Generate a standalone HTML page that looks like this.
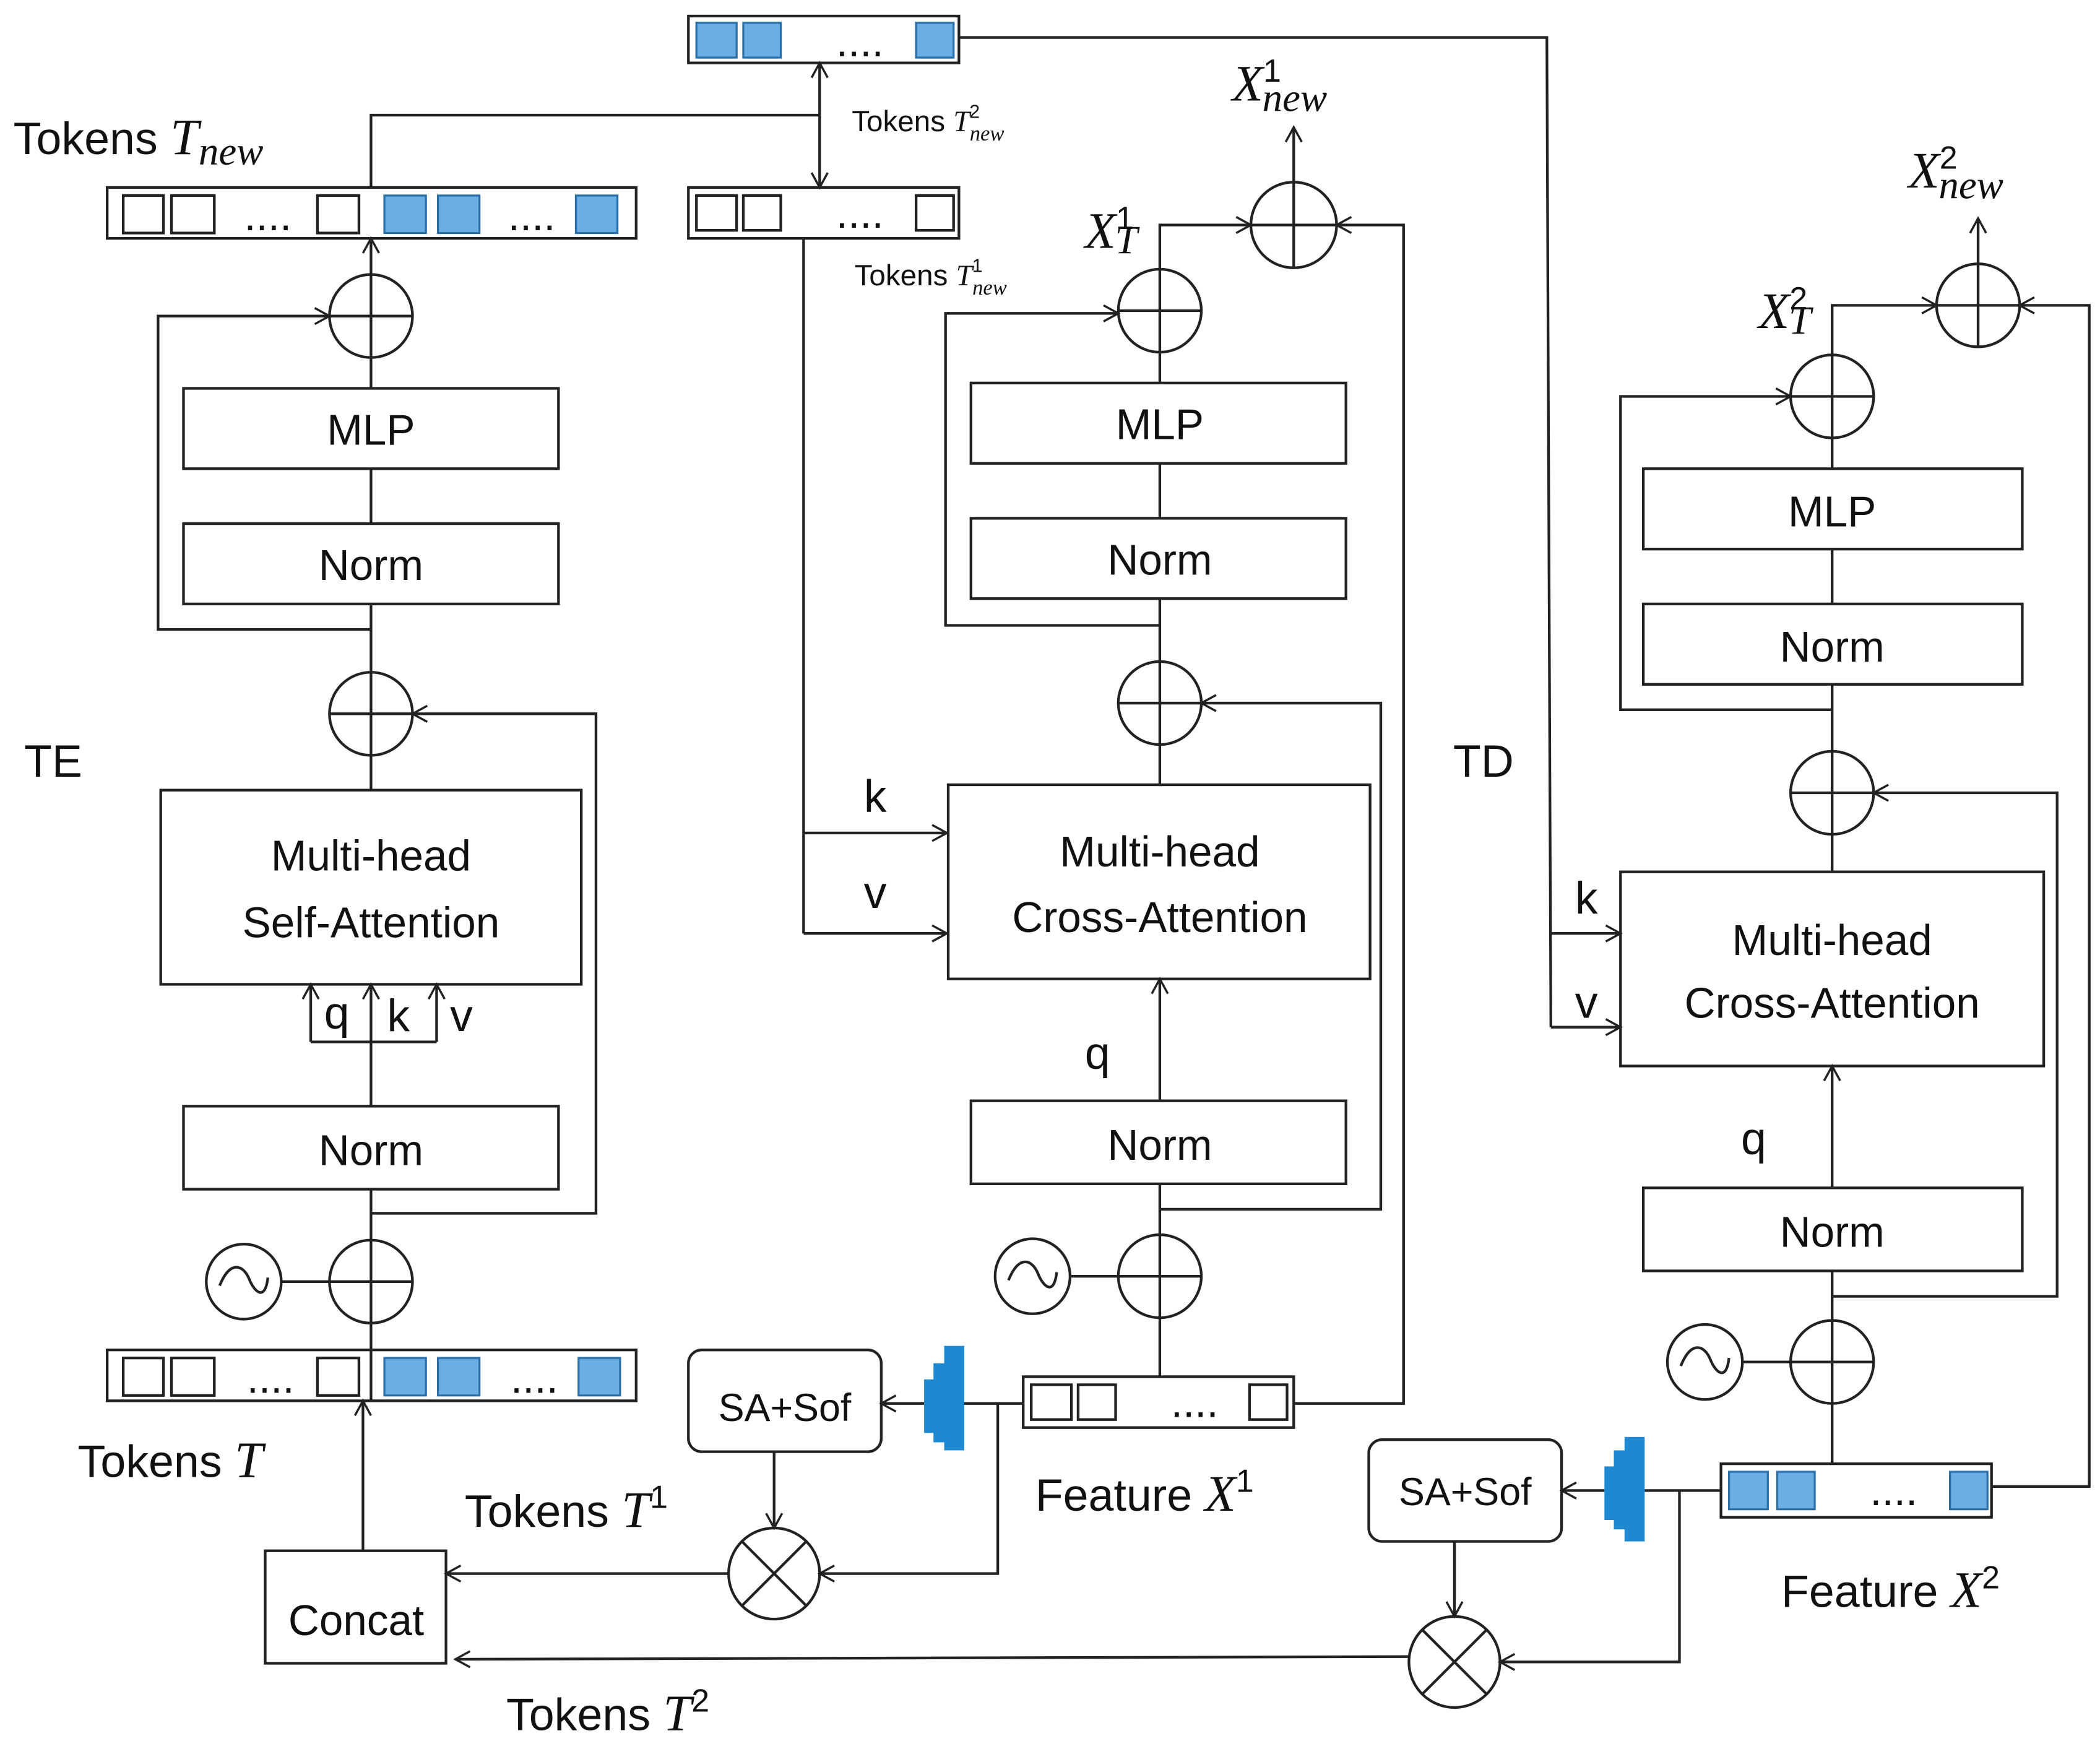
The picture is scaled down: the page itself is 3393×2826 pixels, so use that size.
<!DOCTYPE html>
<html><head><meta charset="utf-8"><style>html,body{margin:0;padding:0;background:#fff}svg{display:block}</style></head>
<body>
<svg width="3393" height="2826" viewBox="0 0 1568 1306" xmlns="http://www.w3.org/2000/svg" font-family="Liberation Sans, sans-serif">
<defs>
<marker id="a" markerWidth="14" markerHeight="14" refX="12" refY="7" orient="auto" markerUnits="userSpaceOnUse"><path d="M1,1 L12,7 L1,13" fill="none" stroke="#222" stroke-width="1.6"/></marker>
</defs>
<rect width="1568" height="1306" fill="#fff"/>
<g stroke="#222" stroke-width="2" fill="none">
<!-- Left column -->
<rect x="80" y="140" width="395" height="38"/>
<rect x="137" y="290" width="280" height="60"/>
<rect x="137" y="391" width="280" height="60"/>
<rect x="120" y="590" width="314" height="145"/>
<rect x="137" y="826" width="280" height="62"/>
<rect x="80" y="1008" width="395" height="38"/>
<rect x="198" y="1158" width="135" height="84"/>
<line x1="277" y1="1008" x2="277" y2="1046"/>
<circle cx="277" cy="236" r="31"/><path d="M246,236H308M277,205V267"/>
<circle cx="277" cy="533" r="31"/><path d="M246,533H308M277,502V564"/>
<circle cx="277" cy="957" r="31"/><path d="M246,957H308M277,926V988"/>
<circle cx="182" cy="957" r="28"/><path d="M164,960 C172,940 182,945 186,955 C190,965 198,972 200,954"/>
<line x1="210" y1="957" x2="246" y2="957"/>
<line x1="277" y1="205" x2="277" y2="178" marker-end="url(#a)"/>
<path d="M277,140V86H612"/>
<line x1="277" y1="267" x2="277" y2="290"/>
<line x1="277" y1="350" x2="277" y2="391"/>
<line x1="277" y1="451" x2="277" y2="502"/>
<path d="M277,470H118V236H246" marker-end="url(#a)"/>
<line x1="277" y1="564" x2="277" y2="590"/>
<path d="M277,906H445V533H308" marker-end="url(#a)"/>
<line x1="277" y1="888" x2="277" y2="926"/>
<line x1="277" y1="826" x2="277" y2="778"/>
<line x1="232" y1="778" x2="326" y2="778"/>
<line x1="232" y1="778" x2="232" y2="735" marker-end="url(#a)"/>
<line x1="277" y1="778" x2="277" y2="735" marker-end="url(#a)"/>
<line x1="326" y1="778" x2="326" y2="735" marker-end="url(#a)"/>
<line x1="277" y1="988" x2="277" y2="1008"/>
<line x1="271" y1="1158" x2="271" y2="1046" marker-end="url(#a)"/>
<!-- middle -->
<rect x="514" y="12" width="202" height="35"/>
<rect x="514" y="140" width="202" height="38"/>
<path d="M612,86V47" marker-end="url(#a)"/>
<path d="M612,86V140" marker-end="url(#a)"/>
<path d="M716,28H1155L1158,767"/>
<line x1="1158" y1="697" x2="1210" y2="697" marker-end="url(#a)"/>
<line x1="1158" y1="767" x2="1210" y2="767" marker-end="url(#a)"/>
<path d="M600,178V697"/>
<line x1="600" y1="622" x2="707" y2="622" marker-end="url(#a)"/>
<line x1="600" y1="697" x2="707" y2="697" marker-end="url(#a)"/>
<rect x="708" y="586" width="315" height="145"/>
<rect x="725" y="286" width="280" height="60"/>
<rect x="725" y="387" width="280" height="60"/>
<rect x="725" y="822" width="280" height="62"/>
<circle cx="866" cy="525" r="31"/><path d="M835,525H897M866,494V556"/>
<circle cx="866" cy="232" r="31"/><path d="M835,232H897M866,201V263"/>
<circle cx="966" cy="168" r="32"/><path d="M934,168H998M966,136V200"/>
<circle cx="866" cy="953" r="31"/><path d="M835,953H897M866,922V984"/>
<circle cx="771" cy="953" r="28"/><path d="M753,956 C761,936 771,941 775,951 C779,961 787,968 789,950"/>
<line x1="799" y1="953" x2="835" y2="953"/>
<line x1="866" y1="263" x2="866" y2="286"/>
<line x1="866" y1="346" x2="866" y2="387"/>
<line x1="866" y1="447" x2="866" y2="494"/>
<line x1="866" y1="556" x2="866" y2="586"/>
<path d="M866,467H706V234H835" marker-end="url(#a)"/>
<path d="M866,201V168H934" marker-end="url(#a)"/>
<line x1="966" y1="136" x2="966" y2="95" marker-end="url(#a)"/>
<path d="M966,1048H1048V168H998" marker-end="url(#a)"/>
<path d="M866,903H1031V525H897" marker-end="url(#a)"/>
<line x1="866" y1="822" x2="866" y2="731" marker-end="url(#a)"/>
<line x1="866" y1="884" x2="866" y2="922"/>
<line x1="866" y1="984" x2="866" y2="1028"/>
<rect x="764" y="1028" width="202" height="38"/>
<line x1="764" y1="1048" x2="720" y2="1048"/>
<line x1="690" y1="1048" x2="658" y2="1048" marker-end="url(#a)"/>
<path d="M745,1048V1175H612" marker-end="url(#a)"/>
<rect x="514" y="1008" width="144" height="76" rx="10"/>
<line x1="578" y1="1084" x2="578" y2="1141" marker-end="url(#a)"/>
<circle cx="578" cy="1175" r="34"/><path d="M554,1151L602,1199M602,1151L554,1199"/>
<line x1="544" y1="1175" x2="333" y2="1175" marker-end="url(#a)"/>
<!-- right -->
<rect x="1210" y="651" width="316" height="145"/>
<rect x="1227" y="350" width="283" height="60"/>
<rect x="1227" y="451" width="283" height="60"/>
<rect x="1227" y="887" width="283" height="62"/>
<circle cx="1368" cy="592" r="31"/><path d="M1337,592H1399M1368,561V623"/>
<circle cx="1368" cy="296" r="31"/><path d="M1337,296H1399M1368,265V327"/>
<circle cx="1477" cy="228" r="31"/><path d="M1446,228H1508M1477,197V259"/>
<circle cx="1368" cy="1017" r="31"/><path d="M1337,1017H1399M1368,986V1048"/>
<circle cx="1273" cy="1017" r="28"/><path d="M1255,1020 C1263,1000 1273,1005 1277,1015 C1281,1025 1289,1032 1291,1014"/>
<line x1="1301" y1="1017" x2="1337" y2="1017"/>
<line x1="1368" y1="327" x2="1368" y2="350"/>
<line x1="1368" y1="410" x2="1368" y2="451"/>
<line x1="1368" y1="511" x2="1368" y2="561"/>
<line x1="1368" y1="623" x2="1368" y2="651"/>
<path d="M1368,530H1210V296H1337" marker-end="url(#a)"/>
<path d="M1368,265V228H1446" marker-end="url(#a)"/>
<line x1="1477" y1="197" x2="1477" y2="163" marker-end="url(#a)"/>
<path d="M1487,1110H1560V228H1508" marker-end="url(#a)"/>
<path d="M1368,968H1536V592H1399" marker-end="url(#a)"/>
<line x1="1368" y1="887" x2="1368" y2="796" marker-end="url(#a)"/>
<line x1="1368" y1="949" x2="1368" y2="986"/>
<line x1="1368" y1="1048" x2="1368" y2="1093"/>
<rect x="1285" y="1093" width="202" height="40"/>
<line x1="1285" y1="1113" x2="1228" y2="1113"/>
<line x1="1198" y1="1113" x2="1166" y2="1113" marker-end="url(#a)"/>
<path d="M1254,1113V1241H1120" marker-end="url(#a)"/>
<rect x="1022" y="1075" width="144" height="76" rx="10"/>
<line x1="1086" y1="1151" x2="1086" y2="1207" marker-end="url(#a)"/>
<circle cx="1086" cy="1241" r="34"/><path d="M1062,1217L1110,1265M1110,1217L1062,1265"/>
<line x1="1052" y1="1237" x2="340" y2="1239" marker-end="url(#a)"/>
</g>
<!-- token squares -->
<g stroke="#222" stroke-width="2" fill="#fff">
<rect x="92" y="146" width="30" height="28"/><rect x="128" y="146" width="32" height="28"/><rect x="237" y="146" width="31" height="28"/>
<rect x="92" y="1014" width="30" height="28"/><rect x="128" y="1014" width="32" height="28"/><rect x="237" y="1014" width="31" height="28"/>
<rect x="520" y="146" width="30" height="26"/><rect x="555" y="146" width="28" height="26"/><rect x="684" y="146" width="28" height="26"/>
<rect x="770" y="1034" width="30" height="26"/><rect x="805" y="1034" width="28" height="26"/><rect x="933" y="1034" width="28" height="26"/>
</g>
<g stroke="#2a6fa8" stroke-width="1.5" fill="#6aaee3">
<rect x="287" y="146" width="31" height="28"/><rect x="327" y="146" width="31" height="28"/><rect x="430" y="146" width="31" height="28"/>
<rect x="287" y="1014" width="31" height="28"/><rect x="327" y="1014" width="31" height="28"/><rect x="432" y="1014" width="31" height="28"/>
<rect x="520" y="17" width="30" height="26"/><rect x="555" y="17" width="28" height="26"/><rect x="684" y="17" width="28" height="26"/>
<rect x="1291" y="1099" width="29" height="28"/><rect x="1327" y="1099" width="28" height="28"/><rect x="1456" y="1099" width="28" height="28"/>
</g>
<g fill="#1e88d0">
<rect x="690" y="1030" width="8" height="40"/><rect x="697" y="1018" width="9" height="59"/><rect x="705" y="1005" width="15" height="78"/>
<rect x="1198" y="1095" width="8" height="40"/><rect x="1205" y="1083" width="9" height="59"/><rect x="1213" y="1073" width="15" height="78"/>
</g>
<g fill="#111" font-size="32" text-anchor="middle">
<text x="200" y="172">....</text><text x="397" y="172">....</text>
<text x="202" y="1040">....</text><text x="399" y="1040">....</text>
<text x="642" y="42">....</text><text x="642" y="170">....</text>
<text x="892" y="1058">....</text><text x="1414" y="1124">....</text>
<text x="277" y="332">MLP</text><text x="277" y="433">Norm</text>
<text x="277" y="650">Multi-head</text><text x="277" y="700">Self-Attention</text>
<text x="277" y="870">Norm</text>
<text x="866" y="328">MLP</text><text x="866" y="429">Norm</text>
<text x="866" y="647">Multi-head</text><text x="866" y="696">Cross-Attention</text>
<text x="866" y="866">Norm</text>
<text x="1368" y="393">MLP</text><text x="1368" y="494">Norm</text>
<text x="1368" y="713">Multi-head</text><text x="1368" y="760">Cross-Attention</text>
<text x="1368" y="931">Norm</text>
<text x="266" y="1221">Concat</text>
<text x="586" y="1061" font-size="29">SA+Sof</text>
<text x="1094" y="1124" font-size="29">SA+Sof</text>
</g>
<g fill="#111" font-size="34">
<text x="242" y="768">q</text><text x="289" y="770">k</text><text x="336" y="770">v</text>
<text x="645" y="606">k</text><text x="645" y="678">v</text>
<text x="810" y="798">q</text>
<text x="1176" y="682">k</text><text x="1176" y="760">v</text>
<text x="1300" y="862">q</text>
<text x="18" y="580">TE</text><text x="1085" y="580">TD</text>
<text x="10" y="115">Tokens <tspan font-family="Liberation Serif" font-style="italic" font-size="38">T</tspan><tspan font-family="Liberation Serif" font-style="italic" font-size="30" dy="8">new</tspan></text>
<text x="58" y="1103">Tokens <tspan font-family="Liberation Serif" font-style="italic" font-size="38">T</tspan></text>
<text x="347" y="1140">Tokens <tspan font-family="Liberation Serif" font-style="italic" font-size="38">T</tspan><tspan font-size="24" dy="-14">1</tspan></text>
<text x="378" y="1292">Tokens <tspan font-family="Liberation Serif" font-style="italic" font-size="38">T</tspan><tspan font-size="24" dy="-14">2</tspan></text>
<text x="773" y="1128">Feature <tspan font-family="Liberation Serif" font-style="italic" font-size="38">X</tspan><tspan font-size="24" dy="-14">1</tspan></text>
<text x="1330" y="1200">Feature <tspan font-family="Liberation Serif" font-style="italic" font-size="38">X</tspan><tspan font-size="24" dy="-14">2</tspan></text>
</g>
<g fill="#111" font-size="22">
<text x="636" y="98">Tokens <tspan font-family="Liberation Serif" font-style="italic">T</tspan><tspan font-family="Liberation Serif" font-style="italic" font-size="16" dy="7">new</tspan><tspan font-size="14" dx="-26" dy="-17">2</tspan></text>
<text x="638" y="213">Tokens <tspan font-family="Liberation Serif" font-style="italic">T</tspan><tspan font-family="Liberation Serif" font-style="italic" font-size="16" dy="7">new</tspan><tspan font-size="14" dx="-26" dy="-17">1</tspan></text>
</g>
<g fill="#111" font-family="Liberation Serif" font-style="italic" font-size="38">
<text x="920" y="75">X<tspan font-family="Liberation Sans" font-style="normal" font-size="24" dy="-14">1</tspan><tspan font-size="30" dx="-14" dy="22">new</tspan></text>
<text x="810" y="185">X<tspan font-family="Liberation Sans" font-style="normal" font-size="24" dy="-14">1</tspan><tspan font-size="30" dx="-14" dy="18">T</tspan></text>
<text x="1425" y="140">X<tspan font-family="Liberation Sans" font-style="normal" font-size="24" dy="-14">2</tspan><tspan font-size="30" dx="-14" dy="22">new</tspan></text>
<text x="1313" y="245">X<tspan font-family="Liberation Sans" font-style="normal" font-size="24" dy="-14">2</tspan><tspan font-size="30" dx="-14" dy="18">T</tspan></text>
</g>
</svg>
</body></html>
